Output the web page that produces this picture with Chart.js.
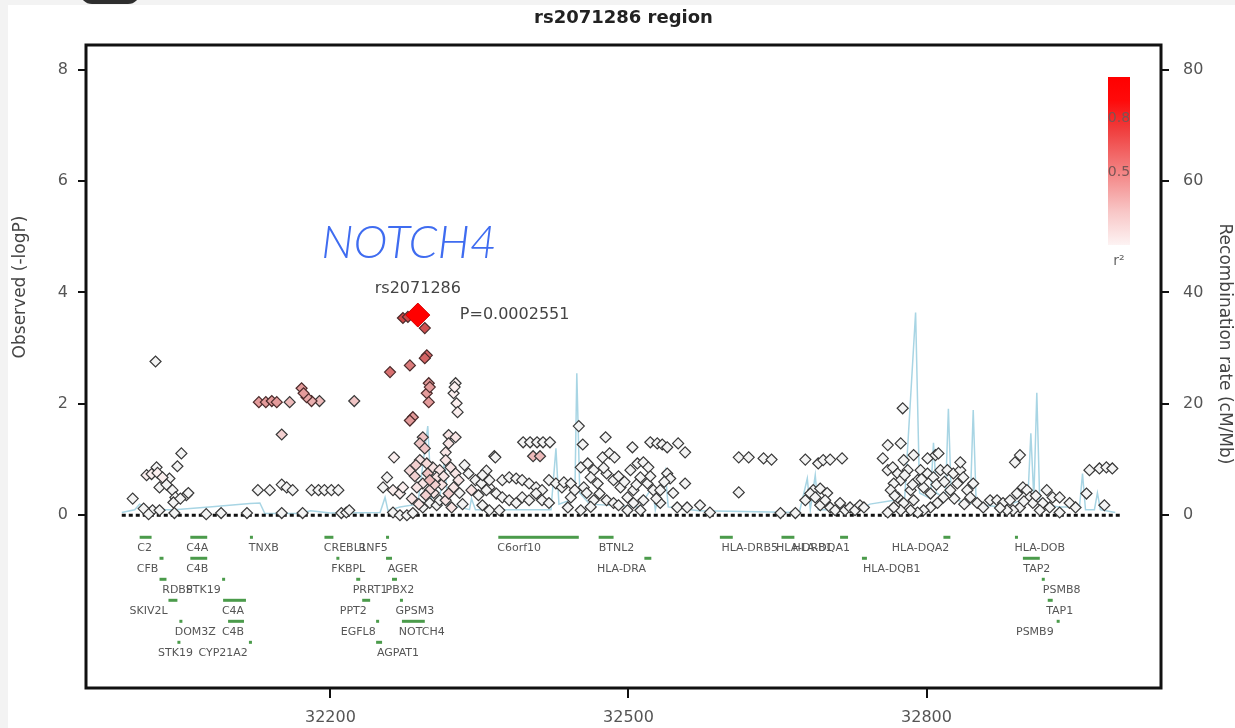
<!DOCTYPE html>
<html>
<head>
<meta charset="utf-8">
<script src="https://cdn.jsdelivr.net/npm/chart.js@4/dist/chart.umd.min.js"></script>
<style>
  html, body { margin: 0; padding: 0; background: #f3f3f3; }
  #wrap { position: relative; width: 1235px; height: 728px; overflow: hidden; }
  canvas { display: block; filter: blur(0.55px); }
  #callout {
    position: absolute; left: 0; top: 0; transform: translate(-50%, -50%);
    font: italic 300 46px Lato, "Open Sans", sans-serif; color: #3f6cf0;
    white-space: nowrap; line-height: 1; pointer-events: none;
  }
</style>
</head>
<body>
<div id="wrap"><canvas id="c" width="1235" height="728"></canvas><div id="callout">NOTCH4</div></div>
<script>
// ---- Association results: [position (kb), -log10 P, r2 with rs2071286] ----
const leadName = 'rs2071286';
const leadPos = 32288;
const leadP = 0.0002551;

const snpsComplement = [
  [32001,0.30,0],[32024,2.76,0],[32015,0.72,0.05],[32020,0.74,0.05],[32026,0.76,0.05],[32031,0.68,0.05],
  [32025,0.86,0],[32038,0.66,0],[32028,0.50,0],[32041,0.45,0],[32046,0.88,0],[32050,1.11,0],[32044,0.32,0],
  [32055,0.36,0],[32057,0.40,0],[32042,0.23,0],[32021,0.09,0],[32028,0.09,0],[32043,0.04,0],[32012,0.12,0],
  [32035,0.55,0],[32049,0.30,0],[32075,0.02,0],[32090,0.04,0],[32017,0.02,0]
];

const snpsTnxb = [
  [32116,0.04,0],[32128,2.03,0.45],[32135,2.03,0.45],[32141,2.05,0.45],[32146,2.03,0.45],[32159,2.03,0.3],
  [32151,1.45,0.2],[32127,0.45,0],[32139,0.45,0],[32151,0.55,0],[32156,0.50,0],[32162,0.45,0],[32151,0.04,0],
  [32171,2.28,0.45],[32173,2.19,0.45],[32176,2.12,0.4],[32181,2.05,0.35],[32189,2.05,0.3],[32181,0.45,0],
  [32188,0.45,0],[32194,0.45,0],[32201,0.45,0],[32208,0.45,0],[32172,0.04,0],[32211,0.04,0],[32216,0.05,0],
  [32219,0.09,0],[32224,2.05,0.25]
];

const snpsNotch4 = [
  [32273,3.54,0.85],[32278,3.56,0.85],[32295,3.36,0.8],[32297,2.87,0.7],[32295,2.82,0.7],[32280,2.69,0.6],[32260,2.57,0.65],
  [32299,2.37,0.45],[32297,2.19,0.45],[32299,2.03,0.45],[32300,2.30,0.45],[32283,1.76,0.45],[32280,1.70,0.45],
  [32326,2.37,0.05],[32324,2.19,0.05],[32327,2.01,0.05],[32328,1.85,0.05],[32325,2.30,0.05],
  [32293,1.40,0.25],[32290,1.29,0.25],[32295,1.20,0.25],[32319,1.44,0.1],[32326,1.40,0.1],[32319,1.29,0.1],[32316,1.13,0.1],
  [32264,1.04,0.05],[32365,1.06,0],[32394,1.31,0],[32401,1.31,0],[32408,1.31,0],[32414,1.31,0],[32421,1.31,0],
  [32404,1.06,0.3],[32411,1.06,0.3],
  [32290,0.99,0.1],[32297,0.93,0.15],[32303,0.86,0.1],[32310,0.81,0.1],[32307,0.68,0.1],[32300,0.63,0.3],[32293,0.57,0.1],[32287,0.50,0.1],
  [32257,0.68,0],[32253,0.50,0],[32263,0.45,0.05],[32270,0.39,0.05],[32273,0.50,0.05],
  [32316,0.99,0.1],[32321,0.86,0.1],[32326,0.75,0.1],[32329,0.63,0.1],[32324,0.50,0.1],[32319,0.39,0.2],[32316,0.27,0.1],[32322,0.14,0.1],
  [32339,0.75,0],[32346,0.63,0],[32352,0.57,0],[32342,0.45,0.1],[32349,0.36,0],
  [32373,0.63,0],[32380,0.68,0],[32387,0.66,0],[32393,0.63,0],[32400,0.57,0],[32407,0.50,0],[32413,0.45,0],[32420,0.63,0],[32427,0.57,0],[32433,0.50,0],
  [32367,0.39,0],[32373,0.32,0],[32380,0.27,0],[32387,0.22,0],[32393,0.32,0],[32400,0.27,0],[32407,0.39,0],[32413,0.27,0],[32420,0.22,0],
  [32263,0.05,0],[32270,0.00,0],[32277,0.00,0],[32283,0.04,0],[32293,0.14,0],[32300,0.22,0],[32307,0.18,0],[32310,0.27,0],
  [32280,0.80,0.15],[32285,0.70,0.2],[32300,0.45,0.15],[32312,0.55,0.1],[32335,0.90,0],[32357,0.80,0],[32360,0.50,0],
  [32282,0.30,0.1],[32289,0.20,0.1],[32296,0.36,0.2],[32304,0.40,0.1],[32314,0.70,0.1],[32330,0.40,0],[32333,0.20,0],
  [32286,0.90,0.2],[32298,0.75,0.25],[32305,0.55,0.2]
];

const snpsBtnl2 = [
  [32366,1.04,0],[32353,0.72,0],[32360,0.63,0],[32357,0.45,0],[32353,0.18,0],[32360,0.09,0],[32370,0.09,0],
  [32450,1.60,0],[32454,1.27,0],[32477,1.40,0],[32504,1.22,0],[32522,1.31,0],[32529,1.29,0],[32534,1.27,0],
  [32539,1.22,0],[32550,1.29,0],[32557,1.13,0],[32539,0.75,0],[32542,0.66,0],[32557,0.57,0],
  [32435,0.59,0],[32442,0.57,0],[32452,0.86,0],[32459,0.93,0],[32465,0.81,0],[32462,0.68,0],[32455,0.50,0],
  [32469,0.57,0],[32474,1.04,0],[32481,1.11,0],[32486,1.04,0],[32478,0.75,0],[32485,0.63,0],[32492,0.50,0],
  [32471,0.39,0],[32465,0.27,0],[32478,0.27,0],[32485,0.22,0],[32499,0.32,0],[32505,0.45,0],[32502,0.81,0],
  [32509,0.93,0],[32515,0.95,0],[32520,0.86,0],[32512,0.68,0],[32519,0.57,0],[32525,0.45,0],[32515,0.27,0],
  [32532,0.45,0],[32505,0.22,0],[32499,0.09,0],[32512,0.09,0],[32532,0.22,0],[32549,0.14,0],[32559,0.14,0],
  [32452,0.09,0],[32442,0.32,0],[32439,0.14,0],[32572,0.18,0],[32582,0.05,0],
  [32446,0.45,0],[32458,0.40,0],[32475,0.85,0],[32490,0.70,0],[32496,0.60,0],[32508,0.55,0],[32522,0.70,0],
  [32528,0.30,0],[32536,0.60,0],[32545,0.40,0],[32462,0.15,0],[32490,0.18,0]
];

const snpsDrb = [
  [32611,1.04,0],[32621,1.04,0],[32636,1.02,0],[32644,1.00,0],[32611,0.41,0],[32678,1.00,0],[32691,0.93,0],
  [32696,0.99,0],[32703,1.00,0],[32715,1.02,0],[32686,0.45,0],[32693,0.48,0],[32700,0.40,0],[32653,0.04,0],
  [32668,0.04,0],[32678,0.27,0],[32683,0.39,0],[32688,0.32,0],[32693,0.18,0],[32698,0.27,0],[32703,0.14,0],
  [32708,0.09,0],[32713,0.22,0],[32718,0.09,0],[32723,0.14,0],[32728,0.09,0],[32733,0.18,0]
];

const snpsDqTap = [
  [32776,1.92,0],[32761,1.26,0],[32774,1.29,0],[32809,1.08,0],[32812,1.11,0],[32889,0.95,0],[32894,1.08,0],
  [32964,0.81,0],[32974,0.84,0],[32981,0.86,0],[32987,0.84,0],[32961,0.39,0],[32979,0.18,0],
  [32761,0.81,0],[32766,0.86,0],[32771,0.75,0],[32777,0.99,0],[32781,0.81,0],[32774,0.63,0],[32767,0.57,0],
  [32764,0.45,0],[32771,0.32,0],[32777,0.22,0],[32784,0.45,0],[32791,0.63,0],[32787,0.27,0],[32794,0.81,0],
  [32801,0.75,0],[32797,0.50,0],[32804,0.39,0],[32807,0.68,0],[32814,0.81,0],[32821,0.81,0],[32827,0.75,0],
  [32834,0.81,0],[32837,0.68,0],[32831,0.57,0],[32824,0.45,0],[32817,0.32,0],[32811,0.22,0],[32804,0.14,0],
  [32797,0.09,0],[32791,0.05,0],[32784,0.09,0],[32774,0.09,0],[32767,0.14,0],[32761,0.05,0],[32841,0.45,0],
  [32847,0.57,0],[32844,0.32,0],[32851,0.22,0],[32857,0.14,0],[32864,0.27,0],[32871,0.27,0],[32877,0.22,0],
  [32884,0.27,0],[32891,0.39,0],[32897,0.50,0],[32901,0.45,0],[32904,0.32,0],[32907,0.22,0],[32894,0.14,0],
  [32887,0.09,0],[32881,0.09,0],[32874,0.13,0],[32921,0.45,0],[32927,0.32,0],[32934,0.32,0],[32917,0.22,0],
  [32924,0.14,0],[32934,0.05,0],[32914,0.09,0],[32737,0.14,0],[32756,1.02,0],[32787,1.08,0],[32801,1.02,0],
  [32834,0.95,0],[32944,0.22,0],[32950,0.14,0],
  [32778,0.72,0],[32786,0.55,0],[32795,0.65,0],[32810,0.55,0],[32818,0.60,0],[32828,0.30,0],[32838,0.20,0],
  [32768,0.35,0],[32910,0.35,0],[32898,0.25,0]
];

// ---- Recombination rate (cM/Mb) ----
const recombPos = [31990,32003,32008,32018,32043,32078,32119,32129,32134,32169,32180,32200,32250,32255,32258,32270,
  32288,32298,32302,32310,32315,32318,32340,32342,32346,32422,32427,32430,32446,32448,32451,32461,32511,32524,32527,
  32534,32537,32540,32571,32672,32680,32683,32688,32691,32733,32743,32778,32789,32793,32804,32807,32810,32819,32822,
  32825,32844,32847,32850,32874,32902,32905,32908,32911,32914,32934,32954,32957,32960,32969,32972,32975,32990];
const recombRate = [0.5,1.0,2.0,1.0,1.0,1.5,2.1,2.2,0.3,0.3,0.8,0.4,0.5,3.2,0.8,1.5,
  2.0,16,2,3,10,2,1,3,1,1,12,2,3,25.5,4,2,1.5,5,1,
  6,8,1.5,0.8,0.5,6.6,1,7.2,1,1,2,3,36.4,4,3,13,4,3,19.1,
  3,2,18.9,2,1.5,3,14.7,3,22,2,1.5,1.5,7.5,1,1,4,1,0.5];

// ---- Genes: name, start/end (kb), track row, label position (kb) ----
const geneNames = ['C2','C4A','TNXB','CREBL1','RNF5','C6orf10','BTNL2','HLA-DRB5','HLA-DRB1','HLA-DQA1','HLA-DQA2','HLA-DOB',
  'CFB','C4B','FKBPL','AGER','HLA-DRA','HLA-DQB1','TAP2',
  'RDBP','STK19','PRRT1','PBX2','PSMB8',
  'SKIV2L','C4A','PPT2','GPSM3','TAP1',
  'DOM3Z','C4B','EGFL8','NOTCH4','PSMB9',
  'STK19','CYP21A2','AGPAT1'];
const geneStart = [32008,32059,32119,32194,32256,32369,32470,32592,32654,32713,32817,32889,
  32028,32059,32206,32256,32516,32735,32897,
  32028,32091,32226,32262,32916,
  32037,32092,32232,32270,32922,
  32048,32097,32246,32272,32931,
  32046,32118,32246];
const geneEnd = [32020,32076,32122,32203,32259,32450,32485,32605,32667,32721,32824,32892,
  32032,32076,32209,32262,32523,32740,32914,
  32035,32093,32230,32267,32919,
  32046,32115,32240,32273,32927,
  32050,32113,32248,32295,32934,
  32048,32120,32252];
const geneRow = [0,0,0,0,0,0,0,0,0,0,0,0, 1,1,1,1,1,1,1, 2,2,2,2,2, 3,3,3,3,3, 4,4,4,4,4, 5,5,5];
const geneLabelPos = [32013,32066,32133,32215,32243,32390,32488,32622,32677,32694,32794,32914,
  32016,32066,32218,32273,32493,32765,32911,
  32046,32072,32240,32270,32936,
  32017,32102,32223,32285,32934,
  32064,32102,32228,32292,32909,
  32044,32092,32268];

const yTicksLeft = [0, 2, 4, 6, 8];
const yTicksRight = [0, 20, 40, 60, 80];
const xTicks = [32200, 32500, 32800];

// ---- helpers ----
const FONT = '"DejaVu Sans", "Liberation Sans", sans-serif';
const leadLogP = -Math.log10(leadP);

function ldFill(r2) {
  const t = Math.max(0, Math.min(1, r2));
  if (t < 0.02) return '#f4f4f4';
  const r = Math.round(255 - 60 * t);
  const g = Math.round(250 - 212 * t);
  return `rgb(${r},${g},${g})`;
}

const allSnps = [].concat(snpsComplement, snpsTnxb, snpsNotch4, snpsBtnl2, snpsDrb, snpsDqTap)
  .slice().sort((a, b) => a[2] - b[2]);

const snpPoints = allSnps.map(s => ({ x: s[0], y: s[1] }));
const snpFill = allSnps.map(s => ldFill(s[2]));
const snpEdge = allSnps.map(s => s[2] > 0.3 ? '#4a2a2a' : '#383838');

// ---- plugins ----
const pagePlugin = {
  id: 'page',
  beforeDraw(chart) {
    const ctx = chart.ctx;
    ctx.save();
    ctx.fillStyle = '#f3f3f3';
    ctx.fillRect(0, 0, chart.width, chart.height);
    ctx.fillStyle = '#ffffff';
    ctx.fillRect(8, 5, chart.width - 8, chart.height - 5);
    ctx.fillStyle = '#2e2e2e';
    ctx.beginPath();
    ctx.roundRect(80, -24, 60, 28, 12);
    ctx.fill();
    ctx.restore();
  }
};

const genePlugin = {
  id: 'genes',
  afterDatasetsDraw(chart) {
    const ctx = chart.ctx, xs = chart.scales.x, ys = chart.scales.y;
    ctx.save();
    ctx.font = '11px ' + FONT;
    ctx.textAlign = 'center';
    ctx.textBaseline = 'middle';
    for (let i = 0; i < geneNames.length; i++) {
      const yb = ys.getPixelForValue(-0.395 - 0.377 * geneRow[i]);
      const x0 = xs.getPixelForValue(geneStart[i]);
      const x1 = xs.getPixelForValue(geneEnd[i]);
      ctx.fillStyle = '#4b9b4b';
      ctx.fillRect(x0, yb - 1.5, Math.max(x1 - x0, 3), 3);
      ctx.fillStyle = '#555';
      ctx.fillText(geneNames[i], xs.getPixelForValue(geneLabelPos[i]), yb + 11);
    }
    ctx.restore();
  }
};

const decorPlugin = {
  id: 'decor',
  afterDraw(chart) {
    const ctx = chart.ctx, ca = chart.chartArea, xs = chart.scales.x, ys = chart.scales.y;
    ctx.save();
    // plot frame
    ctx.strokeStyle = '#111';
    ctx.lineWidth = 3;
    ctx.strokeRect(ca.left, ca.top, ca.right - ca.left, ca.bottom - ca.top);

    // title
    ctx.fillStyle = '#222';
    ctx.font = 'bold 18px ' + FONT;
    ctx.textAlign = 'center';
    ctx.textBaseline = 'middle';
    ctx.fillText(leadName + ' region', (ca.left + ca.right) / 2, 18);

    // axis titles
    ctx.fillStyle = '#444';
    ctx.font = '17px ' + FONT;
    ctx.save();
    ctx.translate(21, 287);
    ctx.rotate(-Math.PI / 2);
    ctx.fillText('Observed (-logP)', 0, 0);
    ctx.restore();
    ctx.save();
    ctx.translate(1224, 344);
    ctx.rotate(Math.PI / 2);
    ctx.fillText('Recombination rate (cM/Mb)', 0, 0);
    ctx.restore();

    // lead SNP labels
    const lx = xs.getPixelForValue(leadPos), ly = ys.getPixelForValue(leadLogP);
    ctx.fillStyle = '#444';
    ctx.font = '16px ' + FONT;
    ctx.textAlign = 'center';
    ctx.fillText(leadName, lx, ly - 26);
    ctx.textAlign = 'left';
    ctx.fillText('P=' + leadP.toFixed(7), lx + 42, ly);

    // gene callout (kept as crisp page text above the canvas)
    const callout = document.getElementById('callout');
    callout.style.left = (lx - 9) + 'px';
    callout.style.top = (ly - 74) + 'px';

    // r2 colour key
    const kx = ca.right - 53, ky = ca.top + 32, kw = 22, kh = 168;
    const grad = ctx.createLinearGradient(0, ky, 0, ky + kh);
    grad.addColorStop(0, '#ff0000');
    grad.addColorStop(0.14, '#ff0a0a');
    grad.addColorStop(0.3, '#f03a3a');
    grad.addColorStop(0.55, '#f37f7f');
    grad.addColorStop(0.8, '#f8c6c6');
    grad.addColorStop(1, '#fdf3f3');
    ctx.fillStyle = grad;
    ctx.fillRect(kx, ky, kw, kh);
    ctx.fillStyle = '#7a5555';
    ctx.font = '14px ' + FONT;
    ctx.textAlign = 'center';
    ctx.fillText('0.8', kx + kw / 2, ky + 41);
    ctx.fillText('0.5', kx + kw / 2, ky + 95);
    ctx.fillStyle = '#666';
    ctx.font = '14px ' + FONT;
    ctx.fillText('r\u00B2', kx + kw / 2, ky + kh + 16);
    ctx.restore();
  }
};

const tickGrid = { drawOnChartArea: false, drawTicks: true, tickLength: 8, tickColor: '#111', lineWidth: 2 };

new Chart(document.getElementById('c'), {
  data: {
    datasets: [
      {
        type: 'scatter',
        data: [{ x: leadPos, y: leadLogP }],
        pointStyle: 'rectRot',
        pointRadius: 12,
        backgroundColor: '#ff0000',
        borderColor: '#d40000',
        borderWidth: 1,
        yAxisID: 'y',
        order: 0
      },
      {
        type: 'scatter',
        data: snpPoints,
        pointStyle: 'rectRot',
        pointRadius: 5.5,
        backgroundColor: snpFill,
        borderColor: snpEdge,
        borderWidth: 1.2,
        yAxisID: 'y',
        order: 1
      },
      {
        type: 'line',
        data: [{ x: 31990, y: 0 }, { x: 32995, y: 0 }],
        borderColor: '#111',
        borderWidth: 3,
        borderDash: [4, 3],
        pointRadius: 0,
        yAxisID: 'y',
        order: 2
      },
      {
        type: 'line',
        data: recombPos.map((p, i) => ({ x: p, y: recombRate[i] })),
        borderColor: '#a8d5e4',
        borderWidth: 1.5,
        pointRadius: 0,
        tension: 0,
        yAxisID: 'y1',
        order: 3
      }
    ]
  },
  options: {
    responsive: false,
    animation: false,
    devicePixelRatio: 1,
    layout: { padding: { top: 45, left: 0, right: 0, bottom: 0 } },
    plugins: { legend: { display: false }, tooltip: { enabled: false }, title: { display: false } },
    scales: {
      x: {
        type: 'linear',
        min: 31954, max: 33036,
        afterFit: s => { s.height = 40; },
        afterBuildTicks: s => { s.ticks = xTicks.map(v => ({ value: v })); },
        ticks: { font: { family: FONT, size: 16 }, color: '#555', padding: 10, callback: v => String(v), maxRotation: 0 },
        grid: Object.assign({}, tickGrid, { tickLength: 10 }),
        border: { display: false }
      },
      y: {
        type: 'linear', position: 'left',
        min: -3.1, max: 8.44,
        afterFit: s => { s.width = 86; },
        afterBuildTicks: s => { s.ticks = yTicksLeft.map(v => ({ value: v })); },
        ticks: { font: { family: FONT, size: 16 }, color: '#555', padding: 10 },
        grid: tickGrid,
        border: { display: false }
      },
      y1: {
        type: 'linear', position: 'right',
        min: -31, max: 84.4,
        afterFit: s => { s.width = 74; },
        afterBuildTicks: s => { s.ticks = yTicksRight.map(v => ({ value: v })); },
        ticks: { font: { family: FONT, size: 16 }, color: '#555', padding: 14 },
        grid: tickGrid,
        border: { display: false }
      }
    }
  },
  plugins: [pagePlugin, genePlugin, decorPlugin]
});
</script>
</body>
</html>
